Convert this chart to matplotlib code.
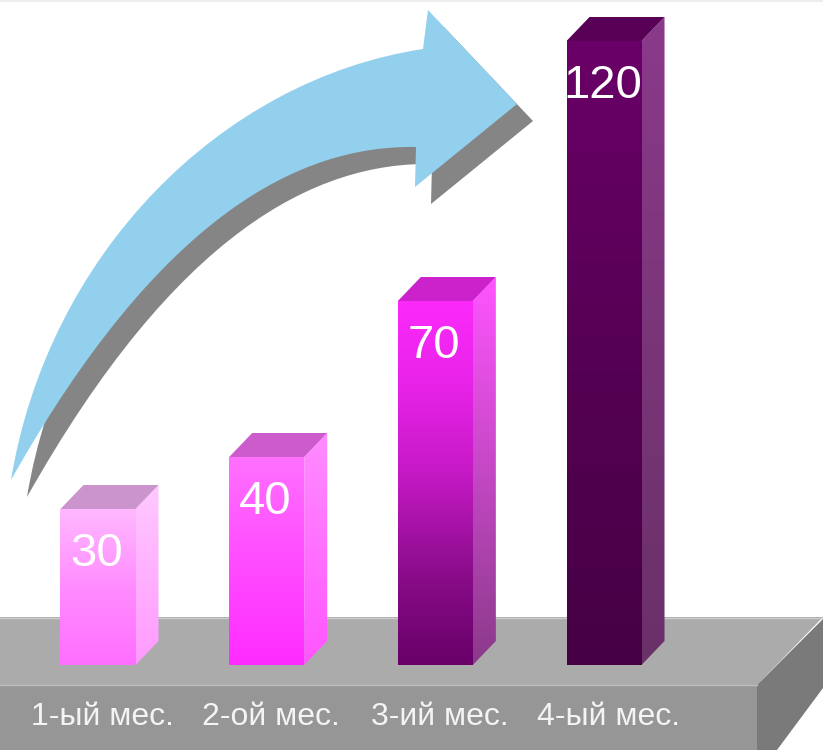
import numpy as np
import matplotlib
matplotlib.use('Agg')
import matplotlib.pyplot as plt
from matplotlib.patches import Polygon, Rectangle, PathPatch
from matplotlib.path import Path
from matplotlib.colors import LinearSegmentedColormap
from matplotlib.transforms import blended_transform_factory

# ---------------- data ----------------
categories = ['1-ый мес.', '2-ой мес.', '3-ий мес.', '4-ый мес.']
values = [30, 40, 70, 120]

# colours (bottom -> top) for front and side faces, plus top face
front_colors = [
    ['#ff6eff', '#ff8cff', '#ffb8ff'],
    ['#ff2cff', '#ff4cff', '#ff70ff'],
    ['#680068', '#8a0c8a', '#c018c0', '#e622e6', '#fb2afb'],
    ['#460044', '#560054', '#6a0068'],
]
side_colors = [
    ['#ff9aff', '#ffc8ff'],
    ['#ff55ff', '#ff8cff'],
    ['#8a3a8a', '#ff55ff'],
    ['#6a3068', '#8a3a8a'],
]
top_colors = ['#cc94cc', '#cc5ccc', '#cc22cc', '#570055']

# ---------------- layout (pixels) ----------------
W, H = 823, 750
base_px = 665          # floor line of bars (from top)
max_top_px = 41        # top of front face of the tallest bar
c0_px, step_px = 98, 168.67
bar_w_px = 75
depth_px = (23, 24)

fig = plt.figure(figsize=(W / 100, H / 100), dpi=100)
fig.patch.set_facecolor('white')

bg = fig.add_axes([0, 0, 1, 1])
bg.set_xlim(0, W)
bg.set_ylim(H, 0)
bg.axis('off')

# faint top line
bg.plot([0, W], [1, 1], color='#eeeeee', lw=1.5, zorder=1)

# ---------------- floor slab ----------------
bg.add_patch(Polygon([(0, 617), (W, 617), (757, 685), (0, 685)], closed=True,
                     facecolor='#ababab', edgecolor='none', zorder=2))
bg.add_patch(Polygon([(0, 685), (757, 685), (757, H), (0, H)], closed=True,
                     facecolor='#969696', edgecolor='none', zorder=2))
bg.add_patch(Polygon([(757, 685), (W, 619), (W, 688), (777, H), (757, H)], closed=True,
                     facecolor='#7a7a7a', edgecolor='none', zorder=2))
bg.plot([0, W], [617.5, 617.5], color='#cccccc', lw=1, zorder=3)
bg.plot([0, 757], [685, 685], color='#bdbdbd', lw=1, zorder=3)

# ---------------- curved arrow ----------------
arrow_verts = [
    (11, 480), (48, 255), (220, 80), (423, 49),          # outer edge
    (428, 10), (517, 104), (415, 187), (416, 147),       # head
    (300, 145), (160, 215), (11, 480),                   # inner edge
    (11, 480),
]
arrow_codes = [Path.MOVETO, Path.CURVE4, Path.CURVE4, Path.CURVE4,
               Path.LINETO, Path.LINETO, Path.LINETO, Path.LINETO,
               Path.CURVE4, Path.CURVE4, Path.CURVE4, Path.CLOSEPOLY]
arrow_path = Path(arrow_verts, arrow_codes)
shadow_path = Path([(x + 16, y + 17) for x, y in arrow_verts], arrow_codes)
bg.add_patch(PathPatch(shadow_path, facecolor='#858585', edgecolor='none', zorder=4))
bg.add_patch(PathPatch(arrow_path, facecolor='#92d0ee', edgecolor='none', zorder=5))

# ---------------- bars ----------------
ax = fig.add_axes([0, 0, 1, 1])
ax.patch.set_alpha(0)
ax.axis('off')
ax.set_autoscale_on(False)
scale = (base_px - max_top_px) / max(values)     # pixels per unit
bottom_px = H - base_px
ax.set_ylim(-bottom_px / scale, (H - bottom_px) / scale)
ax.set_xlim(-c0_px / step_px, (W - c0_px) / step_px)

w = bar_w_px / step_px
dxd = depth_px[0] / step_px
dyd = depth_px[1] / scale

grad = np.linspace(0, 1, 256).reshape(-1, 1)

for i, v in enumerate(values):
    x0, x1 = i - w / 2, i + w / 2
    # front face
    cmap_f = LinearSegmentedColormap.from_list('f%d' % i, front_colors[i])
    front = Rectangle((x0, 0), w, v, facecolor='none', edgecolor='none')
    ax.add_patch(front)
    im = ax.imshow(grad, cmap=cmap_f, extent=(x0, x1, 0, v), origin='lower',
                   aspect='auto', zorder=3, interpolation='bilinear')
    im.set_clip_path(front)
    # side face
    cmap_s = LinearSegmentedColormap.from_list('s%d' % i, side_colors[i])
    side = Polygon([(x1, 0), (x1 + dxd, dyd), (x1 + dxd, v + dyd), (x1, v)],
                   closed=True, facecolor='none', edgecolor='none')
    ax.add_patch(side)
    ims = ax.imshow(grad, cmap=cmap_s, extent=(x1, x1 + dxd, 0, v + dyd), origin='lower',
                    aspect='auto', zorder=3, interpolation='bilinear')
    ims.set_clip_path(side)
    # top face
    ax.add_patch(Polygon([(x0, v), (x1, v), (x1 + dxd, v + dyd), (x0 + dxd, v + dyd)],
                         closed=True, facecolor=top_colors[i], edgecolor='none', zorder=4))
    # value label
    ax.annotate(str(v), xy=(i, v), xytext=(-1, -57), textcoords='offset pixels',
                ha='center', va='baseline', fontsize=34, color='white',
                family='Liberation Sans', zorder=6)

# category labels on the front of the floor
trans = blended_transform_factory(ax.transData, bg.transData)
for i, c in enumerate(categories):
    ax.text(i + 4 / step_px, 725, c, transform=trans, ha='center', va='baseline',
            fontsize=23, color='#f4f4f4', family='Liberation Sans', zorder=6)

ax.set_ylim(-bottom_px / scale, (H - bottom_px) / scale)
ax.set_xlim(-c0_px / step_px, (W - c0_px) / step_px)

fig.savefig('out.png', dpi=100)
